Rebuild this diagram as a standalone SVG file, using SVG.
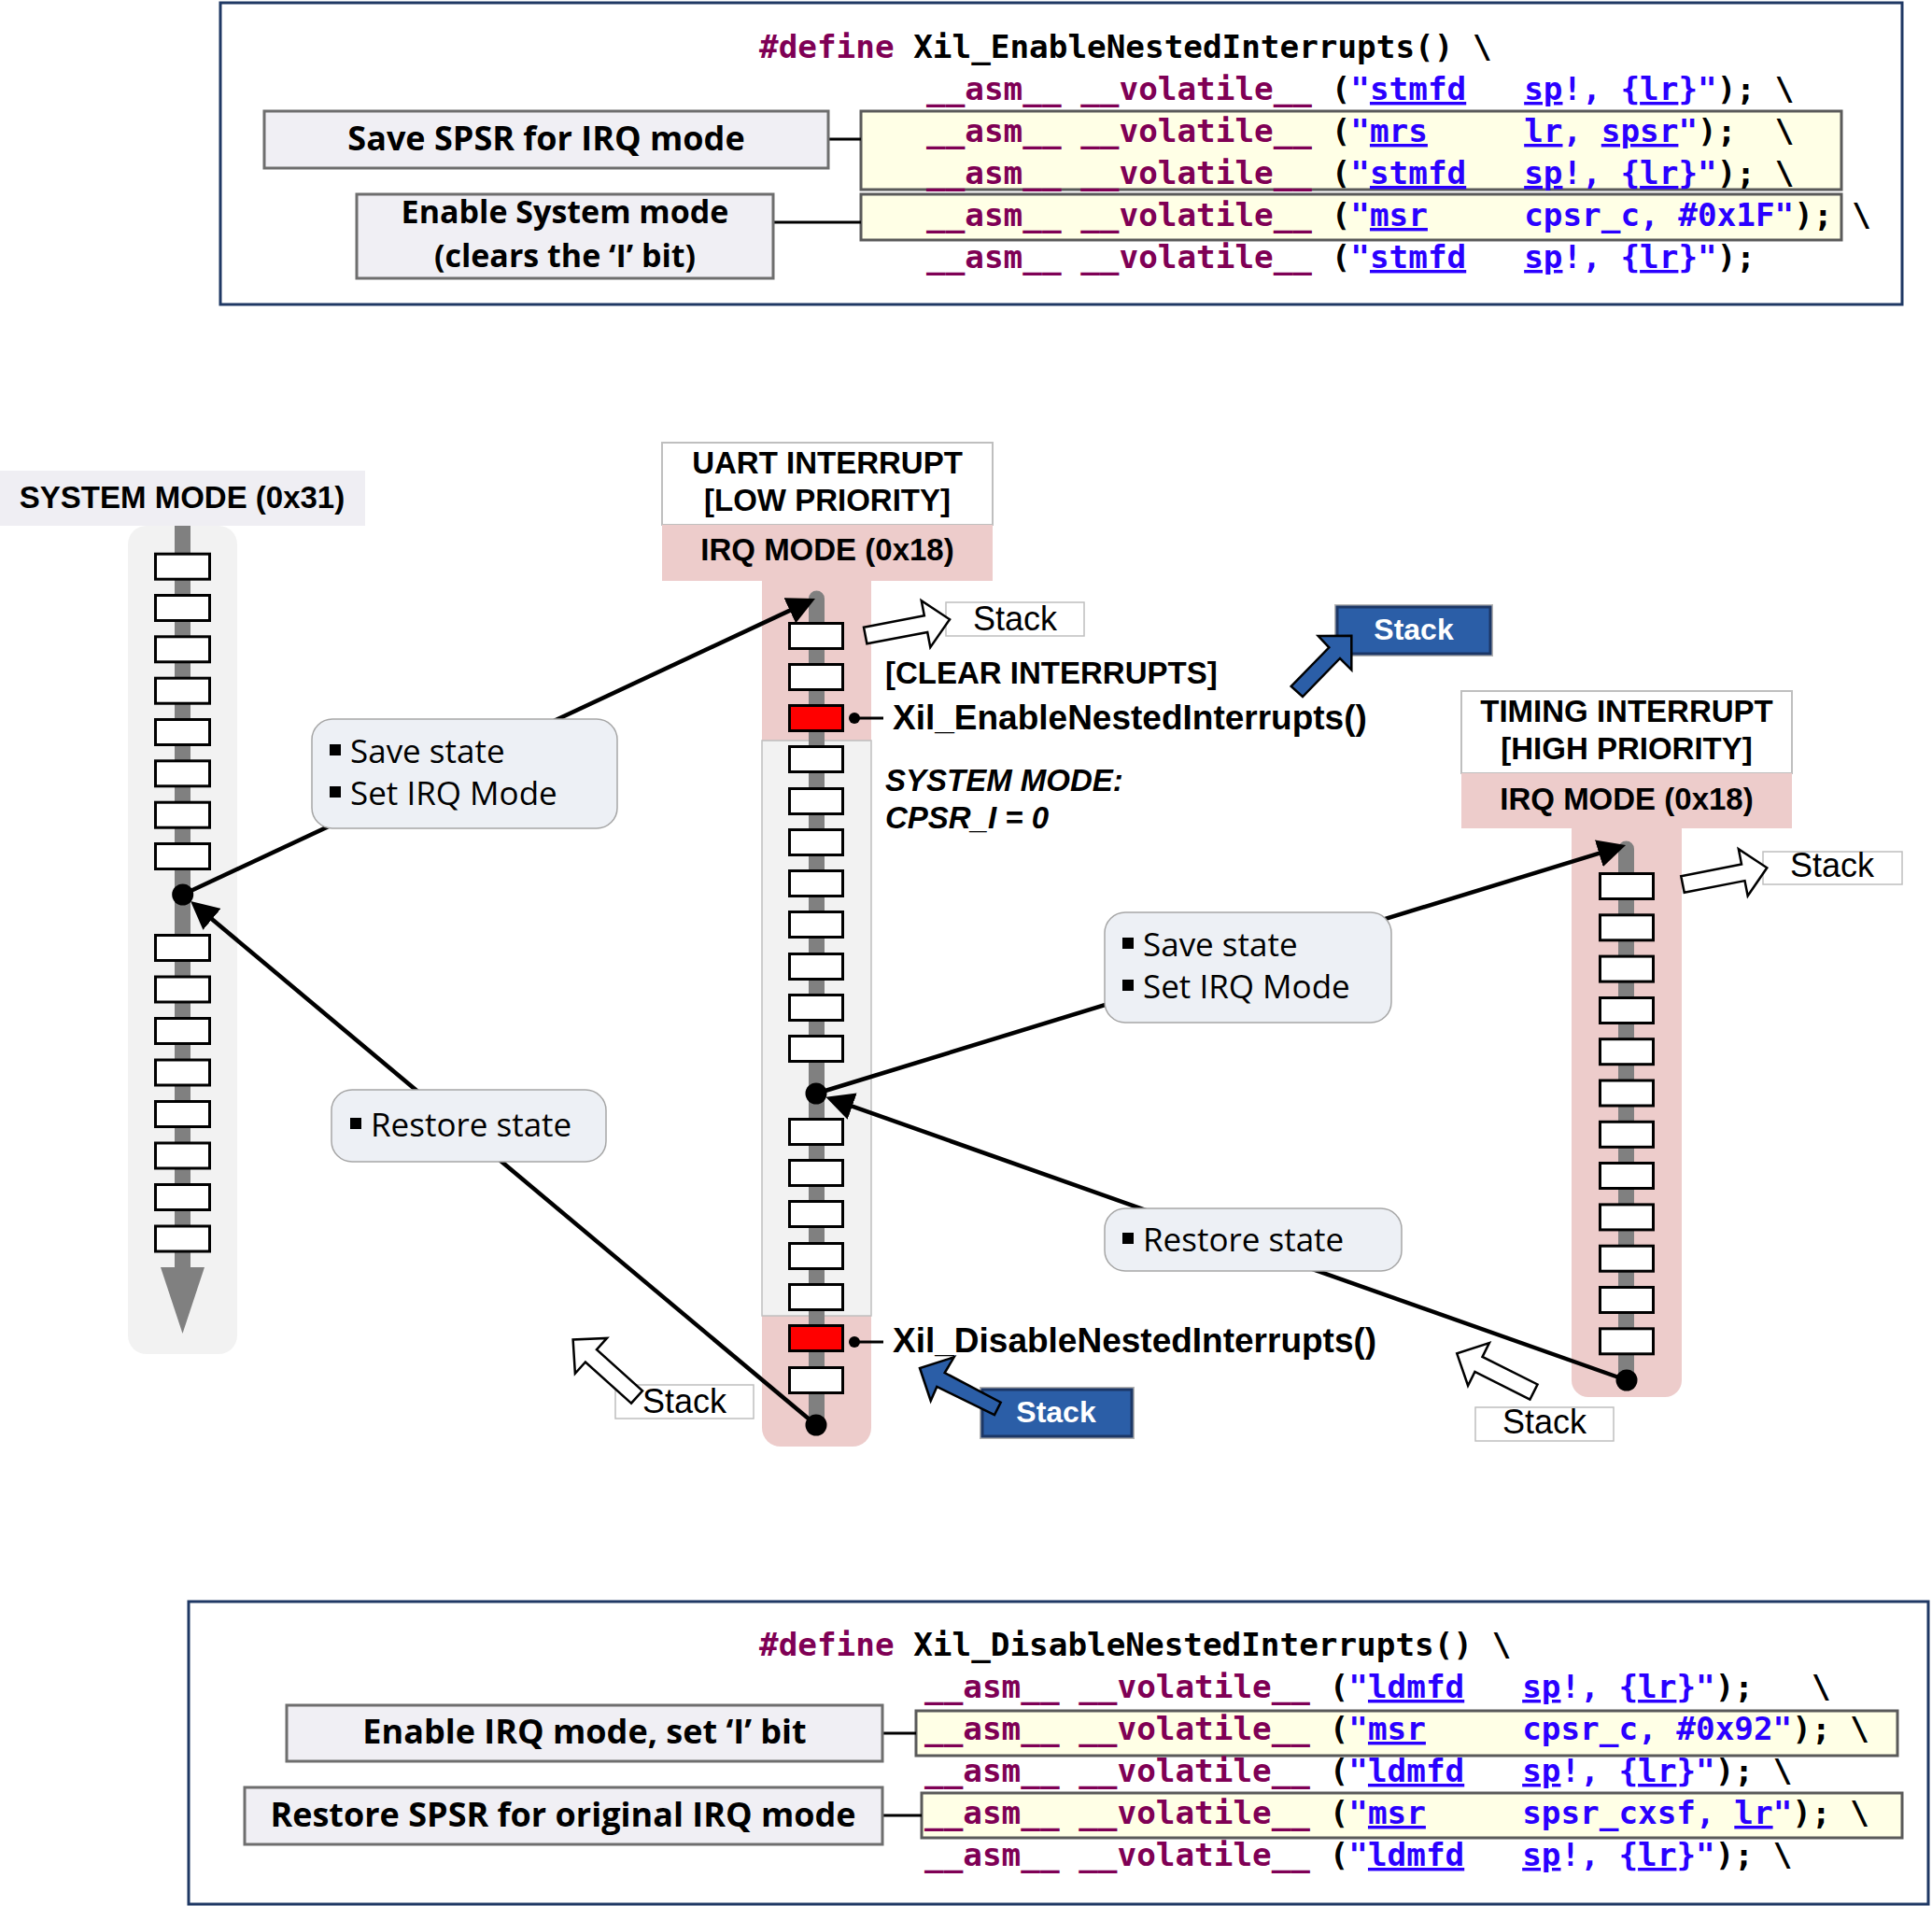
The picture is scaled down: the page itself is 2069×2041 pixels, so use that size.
<svg xmlns="http://www.w3.org/2000/svg" width="2069" height="2041" viewBox="0 0 2069 2041">
<defs>
<style>
.code{font-family:"DejaVu Sans Mono","Liberation Mono",monospace;font-size:34.3px;font-weight:bold;fill:#000}
.kw{fill:#7f0055}
.str{fill:#2a00ff}
.u{text-decoration:underline}
.lbl{font-family:"Open Sans","Noto Sans",sans-serif;font-weight:bold;font-size:36px;text-anchor:middle;fill:#000}
.lbl2{font-size:34px}
.lblbox{fill:#f0eff4;stroke:#6e6e6e;stroke-width:3}
.ybox{fill:#ffffe6;stroke:#5a5a5a;stroke-width:3}
.frame{fill:#fff;stroke:#1f3864;stroke-width:3}
.tick{stroke:#000;stroke-width:3}
.hdr{font-family:"Liberation Sans",Arial,sans-serif;font-weight:bold;font-size:33px;text-anchor:middle;fill:#000}
.it{font-style:italic;text-anchor:start}
.big{font-size:37px;text-anchor:start}
.slot{fill:#fff;stroke:#000;stroke-width:3}
.red{fill:#ff0000;stroke:#000;stroke-width:3}
.rail{stroke:#808080;stroke-width:17;fill:none;stroke-linecap:round}
.pink{fill:#edcccb}
.conn{stroke:#000;stroke-width:4.5;fill:none;marker-end:url(#ah)}
.note{fill:#edf0f5;stroke:#a6a6a6;stroke-width:1.5}
.notet{font-family:"Open Sans","Noto Sans",sans-serif;font-size:35px;fill:#000}
.stk{fill:#fff;stroke:#bfbfbf;stroke-width:1.5}
.stkt{font-family:"Liberation Sans",Arial,sans-serif;font-size:36px;text-anchor:middle;fill:#000}
.warr{fill:#fff;stroke:#000;stroke-width:2.5;stroke-linejoin:miter}
.blue{fill:#2b5ea7;stroke:#1c3766;stroke-width:3}
.bhalo{fill:none;stroke:#b4b4b4;stroke-width:2}
.bluet{font-family:"Liberation Sans",Arial,sans-serif;font-size:32px;font-weight:bold;fill:#fff;text-anchor:middle}
</style>
<marker id="ah" markerUnits="userSpaceOnUse" markerWidth="30" markerHeight="30" viewBox="0 0 30 30" refX="15" refY="15" orient="auto"><path d="M0,0 L30,15 L0,30 Z" fill="#000"/></marker>
<path id="warrow" d="M0,-9 L66,-9 L66,-25.5 L92,0 L66,25.5 L66,9 L0,9 Z"/>
</defs>
<rect x="0" y="0" width="2069" height="2041" fill="#fff"/>

<!-- Top code block -->
<g id="code-enable">
<rect class="frame" x="236" y="3" width="1801" height="323"/>
<rect class="ybox" x="922" y="119" width="1050" height="84"/>
<rect class="ybox" x="922" y="208" width="1050" height="49"/>
<text class="code" x="813" y="62" xml:space="preserve"><tspan class="kw">#define</tspan> Xil_EnableNestedInterrupts() \</text>
<text class="code" x="992" y="107" xml:space="preserve"><tspan class="kw">__asm__</tspan> <tspan class="kw">__volatile__</tspan> (<tspan class="str">"</tspan><tspan class="str u">stmfd</tspan>   <tspan class="str u">sp</tspan><tspan class="str">!, {</tspan><tspan class="str u">lr</tspan><tspan class="str">}"</tspan>); \</text>
<text class="code" x="992" y="152" xml:space="preserve"><tspan class="kw">__asm__</tspan> <tspan class="kw">__volatile__</tspan> (<tspan class="str">"</tspan><tspan class="str u">mrs</tspan>     <tspan class="str u">lr</tspan><tspan class="str">, </tspan><tspan class="str u">spsr</tspan><tspan class="str">"</tspan>);  \</text>
<text class="code" x="992" y="197" xml:space="preserve"><tspan class="kw">__asm__</tspan> <tspan class="kw">__volatile__</tspan> (<tspan class="str">"</tspan><tspan class="str u">stmfd</tspan>   <tspan class="str u">sp</tspan><tspan class="str">!, {</tspan><tspan class="str u">lr</tspan><tspan class="str">}"</tspan>); \</text>
<text class="code" x="992" y="242" xml:space="preserve"><tspan class="kw">__asm__</tspan> <tspan class="kw">__volatile__</tspan> (<tspan class="str">"</tspan><tspan class="str u">msr</tspan>     <tspan class="str">cpsr_c, #0x1F"</tspan>); \</text>
<text class="code" x="992" y="287" xml:space="preserve"><tspan class="kw">__asm__</tspan> <tspan class="kw">__volatile__</tspan> (<tspan class="str">"</tspan><tspan class="str u">stmfd</tspan>   <tspan class="str u">sp</tspan><tspan class="str">!, {</tspan><tspan class="str u">lr</tspan><tspan class="str">}"</tspan>);</text>
</g>
<g id="label-save-spsr">
<line class="tick" x1="887" y1="149" x2="922" y2="149"/>
<rect class="lblbox" x="283" y="119" width="604" height="61"/>
<text class="lbl" x="585" y="161">Save SPSR for IRQ mode</text>
</g>
<g id="label-enable-system">
<line class="tick" x1="828" y1="238" x2="922" y2="238"/>
<rect class="lblbox" x="382" y="208" width="446" height="90"/>
<text class="lbl lbl2" x="605" y="239">Enable System mode</text>
<text class="lbl lbl2" x="605" y="286">(clears the ‘I’ bit)</text>
</g>

<!-- Bottom code block -->
<g id="code-disable">
<rect class="frame" x="202" y="1715" width="1863" height="324"/>
<rect class="ybox" x="981" y="1832" width="1051" height="48"/>
<rect class="ybox" x="987" y="1920" width="1050" height="48"/>
<text class="code" x="813" y="1773" xml:space="preserve"><tspan class="kw">#define</tspan> Xil_DisableNestedInterrupts() \</text>
<text class="code" x="990" y="1818" xml:space="preserve"><tspan class="kw">__asm__</tspan> <tspan class="kw">__volatile__</tspan> (<tspan class="str">"</tspan><tspan class="str u">ldmfd</tspan>   <tspan class="str u">sp</tspan><tspan class="str">!, {</tspan><tspan class="str u">lr</tspan><tspan class="str">}"</tspan>);   \</text>
<text class="code" x="990" y="1863" xml:space="preserve"><tspan class="kw">__asm__</tspan> <tspan class="kw">__volatile__</tspan> (<tspan class="str">"</tspan><tspan class="str u">msr</tspan>     <tspan class="str">cpsr_c, #0x92"</tspan>); \</text>
<text class="code" x="990" y="1908" xml:space="preserve"><tspan class="kw">__asm__</tspan> <tspan class="kw">__volatile__</tspan> (<tspan class="str">"</tspan><tspan class="str u">ldmfd</tspan>   <tspan class="str u">sp</tspan><tspan class="str">!, {</tspan><tspan class="str u">lr</tspan><tspan class="str">}"</tspan>); \</text>
<text class="code" x="990" y="1953" xml:space="preserve"><tspan class="kw">__asm__</tspan> <tspan class="kw">__volatile__</tspan> (<tspan class="str">"</tspan><tspan class="str u">msr</tspan>     <tspan class="str">spsr_cxsf, </tspan><tspan class="str u">lr</tspan><tspan class="str">"</tspan>); \</text>
<text class="code" x="990" y="1998" xml:space="preserve"><tspan class="kw">__asm__</tspan> <tspan class="kw">__volatile__</tspan> (<tspan class="str">"</tspan><tspan class="str u">ldmfd</tspan>   <tspan class="str u">sp</tspan><tspan class="str">!, {</tspan><tspan class="str u">lr</tspan><tspan class="str">}"</tspan>); \</text>
</g>
<g id="label-enable-irq">
<line class="tick" x1="945" y1="1856" x2="981" y2="1856"/>
<rect class="lblbox" x="307" y="1826" width="638" height="60"/>
<text class="lbl" x="626" y="1867">Enable IRQ mode, set ‘I’ bit</text>
</g>
<g id="label-restore-spsr">
<line class="tick" x1="945" y1="1944" x2="987" y2="1944"/>
<rect class="lblbox" x="262" y="1914" width="683" height="61"/>
<text class="lbl" x="603" y="1956">Restore SPSR for original IRQ mode</text>
</g>

<!-- System mode column -->
<g id="system-mode">
<rect x="137" y="563" width="117" height="887" rx="20" fill="#f2f2f2"/>
<rect x="0" y="504" width="391" height="59" fill="#efeef3"/>
<text class="hdr" x="195" y="544">SYSTEM MODE (0x31)</text>
<line x1="195.5" y1="563" x2="195.5" y2="1360" stroke="#808080" stroke-width="17"/>
<polygon points="172,1357 219,1357 195.5,1428" fill="#808080"/>
<rect class="slot" x="166.5" y="593.2" width="58" height="27"/>
<rect class="slot" x="166.5" y="637.5" width="58" height="27"/>
<rect class="slot" x="166.5" y="681.8" width="58" height="27"/>
<rect class="slot" x="166.5" y="726.2" width="58" height="27"/>
<rect class="slot" x="166.5" y="770.5" width="58" height="27"/>
<rect class="slot" x="166.5" y="814.8" width="58" height="27"/>
<rect class="slot" x="166.5" y="859.2" width="58" height="27"/>
<rect class="slot" x="166.5" y="903.5" width="58" height="27"/>
<rect class="slot" x="166.5" y="1001.5" width="58" height="27"/>
<rect class="slot" x="166.5" y="1046" width="58" height="27"/>
<rect class="slot" x="166.5" y="1090.5" width="58" height="27"/>
<rect class="slot" x="166.5" y="1135" width="58" height="27"/>
<rect class="slot" x="166.5" y="1179.5" width="58" height="27"/>
<rect class="slot" x="166.5" y="1224" width="58" height="27"/>
<rect class="slot" x="166.5" y="1268.5" width="58" height="27"/>
<rect class="slot" x="166.5" y="1313" width="58" height="27"/>
</g>

<!-- UART interrupt column -->
<g id="uart-interrupt">
<rect class="pink" x="816" y="600" width="117" height="949" rx="20"/>
<rect x="816" y="793" width="117" height="616" fill="#f2f2f2" stroke="#bfbfbf" stroke-width="1.5"/>
<rect x="709" y="474" width="354" height="88" fill="#fff" stroke="#bfbfbf" stroke-width="2"/>
<rect class="pink" x="709" y="562" width="354" height="60"/>
<text class="hdr" x="886" y="507">UART INTERRUPT</text>
<text class="hdr" x="886" y="547">[LOW PRIORITY]</text>
<text class="hdr" x="886" y="600">IRQ MODE (0x18)</text>
<line class="rail" x1="874.5" y1="641" x2="874.5" y2="1526"/>
<rect class="slot" x="845.5" y="667.5" width="57" height="27"/>
<rect class="slot" x="845.5" y="711.5" width="57" height="27"/>
<rect class="red" x="845.5" y="755.5" width="57" height="27"/>
<rect class="slot" x="845.5" y="799.5" width="57" height="27"/>
<rect class="slot" x="845.5" y="844.5" width="57" height="27"/>
<rect class="slot" x="845.5" y="888.5" width="57" height="27"/>
<rect class="slot" x="845.5" y="932.5" width="57" height="27"/>
<rect class="slot" x="845.5" y="976.5" width="57" height="27"/>
<rect class="slot" x="845.5" y="1021.5" width="57" height="27"/>
<rect class="slot" x="845.5" y="1065.5" width="57" height="27"/>
<rect class="slot" x="845.5" y="1109.5" width="57" height="27"/>
<rect class="slot" x="845.5" y="1198.5" width="57" height="27"/>
<rect class="slot" x="845.5" y="1242.5" width="57" height="27"/>
<rect class="slot" x="845.5" y="1286.5" width="57" height="27"/>
<rect class="slot" x="845.5" y="1331.5" width="57" height="27"/>
<rect class="slot" x="845.5" y="1375.5" width="57" height="27"/>
<rect class="red" x="845.5" y="1419.5" width="57" height="27"/>
<rect class="slot" x="845.5" y="1464.5" width="57" height="27"/>
</g>

<!-- Timing interrupt column -->
<g id="timing-interrupt">
<rect class="pink" x="1683" y="870" width="118" height="626" rx="18"/>
<rect x="1565" y="740" width="354" height="88" fill="#fff" stroke="#bfbfbf" stroke-width="2"/>
<rect class="pink" x="1565" y="828" width="354" height="59"/>
<text class="hdr" x="1742" y="773">TIMING INTERRUPT</text>
<text class="hdr" x="1742" y="813">[HIGH PRIORITY]</text>
<text class="hdr" x="1742" y="867">IRQ MODE (0x18)</text>
<line class="rail" x1="1741.5" y1="909" x2="1741.5" y2="1478"/>
<rect class="slot" x="1713.5" y="935.5" width="57" height="27"/>
<rect class="slot" x="1713.5" y="979.8" width="57" height="27"/>
<rect class="slot" x="1713.5" y="1024.1" width="57" height="27"/>
<rect class="slot" x="1713.5" y="1068.5" width="57" height="27"/>
<rect class="slot" x="1713.5" y="1112.7" width="57" height="27"/>
<rect class="slot" x="1713.5" y="1157" width="57" height="27"/>
<rect class="slot" x="1713.5" y="1201.3" width="57" height="27"/>
<rect class="slot" x="1713.5" y="1245.5" width="57" height="27"/>
<rect class="slot" x="1713.5" y="1289.9" width="57" height="27"/>
<rect class="slot" x="1713.5" y="1334.2" width="57" height="27"/>
<rect class="slot" x="1713.5" y="1378.5" width="57" height="27"/>
<rect class="slot" x="1713.5" y="1422.8" width="57" height="27"/>
</g>

<!-- Connectors -->
<g id="connectors">
<path class="conn" d="M195.7,958 L859.4,647.4"/>
<path class="conn" d="M874,1526 L215.6,974.7"/>
<path class="conn" d="M874,1171 L1726.7,909.4"/>
<path class="conn" d="M1742,1478 L898.5,1179.7"/>
<line x1="915" y1="769" x2="946" y2="769" stroke="#000" stroke-width="3"/>
<line x1="915" y1="1437" x2="946" y2="1437" stroke="#000" stroke-width="3"/>
</g>

<!-- Dots -->
<g id="dots">
<circle cx="195.7" cy="958" r="11.5" fill="#000"/>
<circle cx="874" cy="1171" r="11.5" fill="#000"/>
<circle cx="874" cy="1526" r="11.5" fill="#000"/>
<circle cx="1742" cy="1478" r="11.5" fill="#000"/>
<circle cx="915" cy="769" r="6" fill="#000"/>
<circle cx="915" cy="1437" r="6" fill="#000"/>
</g>

<!-- Notes -->
<g id="note-save-1">
<rect class="note" x="334" y="770" width="327" height="117" rx="22"/>
<rect x="353" y="797" width="12" height="12" fill="#000"/>
<text class="notet" x="375" y="817">Save state</text>
<rect x="353" y="842" width="12" height="12" fill="#000"/>
<text class="notet" x="375" y="862">Set IRQ Mode</text>
</g>
<g id="note-restore-1">
<rect class="note" x="355" y="1167" width="294" height="77" rx="22"/>
<rect x="375" y="1197" width="12" height="12" fill="#000"/>
<text class="notet" x="397" y="1217">Restore state</text>
</g>
<g id="note-save-2">
<rect class="note" x="1183" y="977" width="307" height="118" rx="22"/>
<rect x="1202" y="1004" width="12" height="12" fill="#000"/>
<text class="notet" x="1224" y="1024">Save state</text>
<rect x="1202" y="1049" width="12" height="12" fill="#000"/>
<text class="notet" x="1224" y="1069">Set IRQ Mode</text>
</g>
<g id="note-restore-2">
<rect class="note" x="1183" y="1294" width="318" height="67" rx="22"/>
<rect x="1202" y="1320" width="12" height="12" fill="#000"/>
<text class="notet" x="1224" y="1340">Restore state</text>
</g>

<!-- Side labels -->
<g id="label-clear">
<text class="hdr" x="948" y="732" style="text-anchor:start">[CLEAR INTERRUPTS]</text>
<text class="hdr big" x="956" y="781">Xil_EnableNestedInterrupts()</text>
<text class="hdr it" x="948" y="847">SYSTEM MODE:</text>
<text class="hdr it" x="948" y="887">CPSR_I = 0</text>
<text class="hdr big" x="956" y="1448">Xil_DisableNestedInterrupts()</text>
</g>

<!-- Stack labels (white) -->
<g id="stack-uart-push">
<rect class="stk" x="1013" y="645" width="148" height="36"/>
<text class="stkt" x="1087" y="675">Stack</text>
<use href="#warrow" class="warr" transform="translate(926.7,680.5) rotate(-10.8)"/>
</g>
<g id="stack-timing-push">
<rect class="stk" x="1888" y="912" width="149" height="35"/>
<text class="stkt" x="1962" y="939">Stack</text>
<use href="#warrow" class="warr" transform="translate(1802,947) rotate(-11.1)"/>
</g>
<g id="stack-timing-pop">
<rect class="stk" x="1580" y="1507" width="148" height="36"/>
<text class="stkt" x="1654" y="1535">Stack</text>
<use href="#warrow" class="warr" transform="translate(1642.5,1490.5) rotate(206.6)"/>
</g>
<g id="stack-uart-pop">
<rect class="stk" x="659" y="1483" width="148" height="36"/>
<text class="stkt" x="733" y="1513">Stack</text>
<use href="#warrow" class="warr" transform="translate(682,1496) rotate(222)"/>
</g>

<!-- Stack labels (blue) -->
<g id="stack-blue-enable">
<rect class="bhalo" x="1430" y="648" width="168" height="54"/>
<rect class="blue" x="1432" y="650" width="164" height="50"/>
<text class="bluet" x="1514" y="685">Stack</text>
<polygon class="blue" style="stroke:#000;stroke-width:2.5" points="1411.7,681 1447.3,680.7 1447.3,717.3 1435,705 1395,746 1382.7,735 1423.3,693.3"/>
</g>
<g id="stack-blue-disable">
<rect class="bhalo" x="1050" y="1486" width="164" height="54"/>
<rect class="blue" x="1052" y="1488" width="160" height="50"/>
<text class="bluet" x="1131" y="1523">Stack</text>
<polygon class="blue" style="stroke:#000;stroke-width:2.5" points="985,1465 996.7,1500 1003.3,1485 1065,1515 1071.7,1501.7 1011.7,1470 1021.7,1453.3"/>
</g>
</svg>
